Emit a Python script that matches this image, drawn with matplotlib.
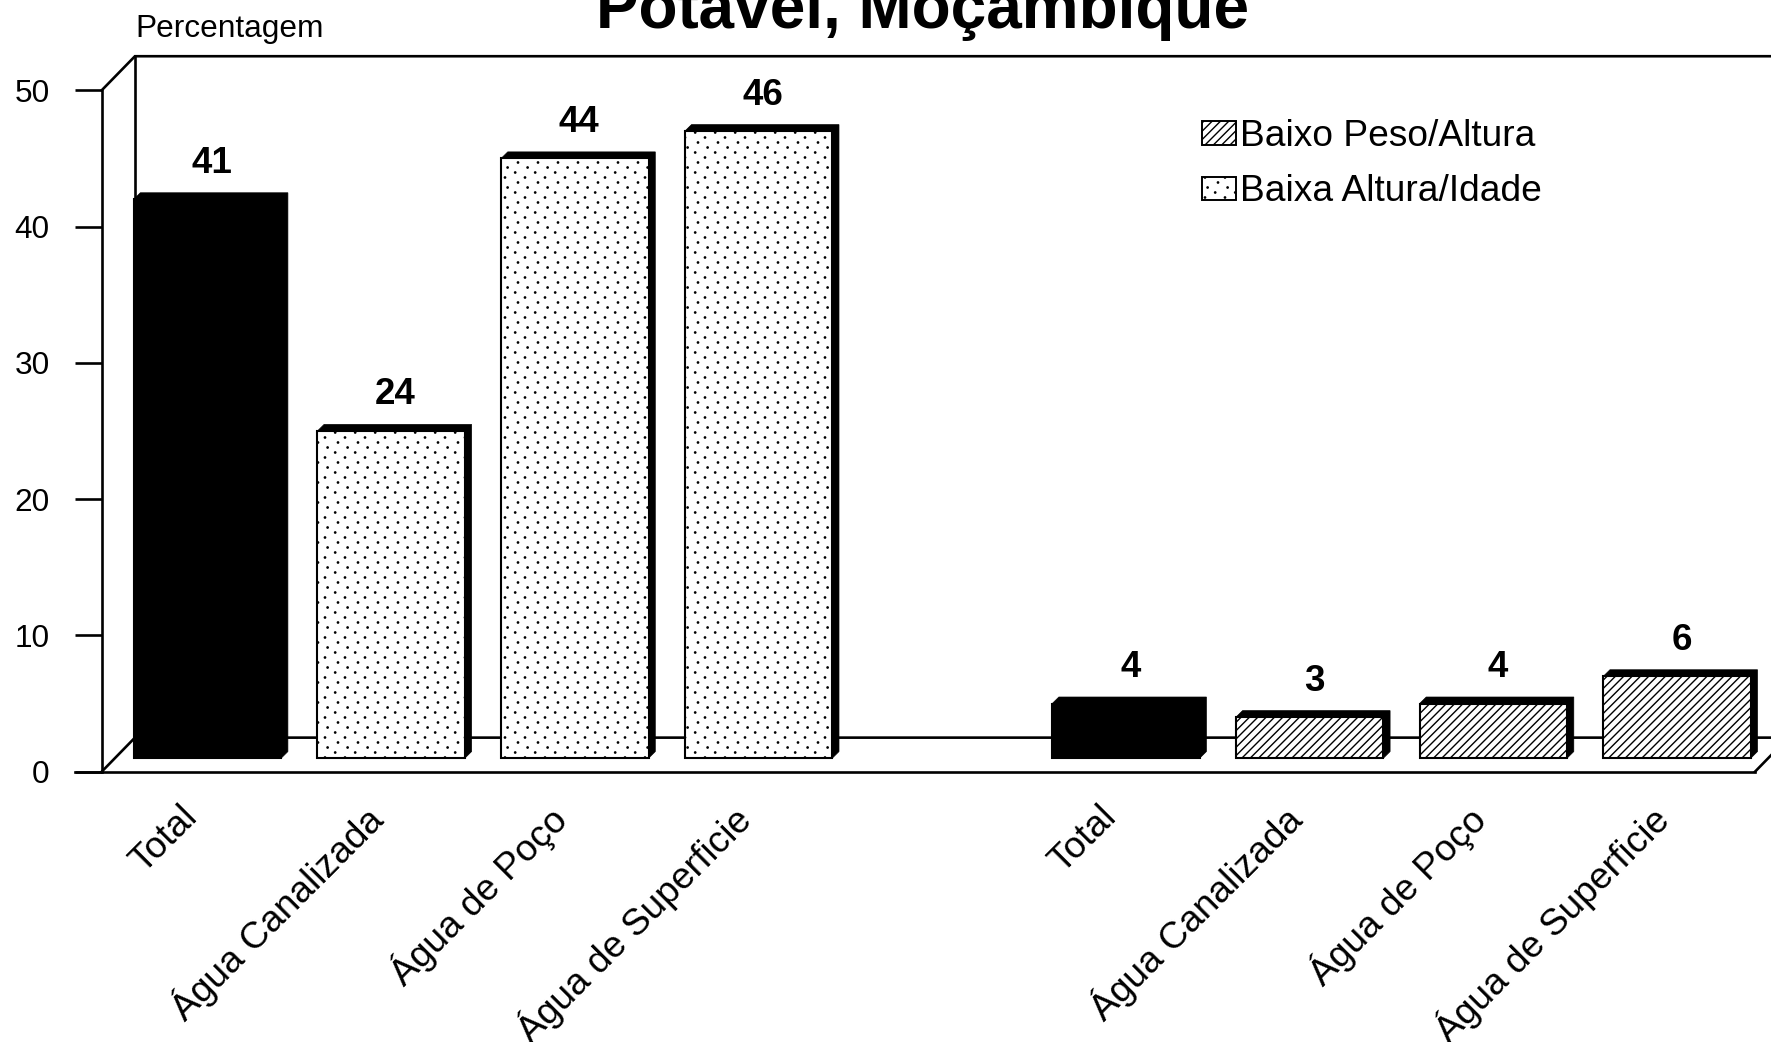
import matplotlib
matplotlib.use("Agg")
import numpy as np
import matplotlib.pyplot as plt
import matplotlib.hatch as mhatch
from matplotlib.path import Path
from matplotlib.patches import Patch, Polygon

plt.rcParams['font.family'] = ['Liberation Sans', 'DejaVu Sans']
plt.rcParams['hatch.linewidth'] = 1.0

W, H = 1771, 1042
# ---- data ----
categories = ["Total", "Água Canalizada", "Água de Poço", "Água de Superficie"]
height_for_age = [41, 24, 44, 46]     # Baixa Altura/Idade
weight_for_height = [4, 3, 4, 6]      # Baixo Peso/Altura
left_positions = [0, 1, 2, 3]
right_positions = [5, 6, 7, 8]
y_ticks = [0, 10, 20, 30, 40, 50]
legend_labels = ["Baixo Peso/Altura", "Baixa Altura/Idade"]
title_text = "Potável, Moçambique"
y_title = "Percentagem"

# ---- 3-D look (data units) ----
BASE = 1.0        # bars stand one unit above the front floor line
BAR_W = 0.803
DX, DY = 0.036, 0.48     # bar depth
WX, WY = 0.181, 2.5      # wall depth
XMIN, XMAX = -0.576, 8.424


class SparseDots(mhatch.HatchPatternBase):
    """Sparse 4-row staggered dot screen, used for the '*' hatch."""
    COLS = 5
    ROWS = 20
    PHASE = [0.90, 0.38, 0.76, 0.25]
    R = 0.0065

    def __init__(self, hatch, density):
        self.on = '*' in hatch
        self.circle = Path.unit_circle()
        self.num_vertices = (self.COLS * self.ROWS * len(self.circle.vertices)) if self.on else 0

    def set_vertices_and_codes(self, vertices, codes):
        n = len(self.circle.vertices)
        cur = 0
        for j in range(self.ROWS):
            y = 1 - (j + 0.5) / self.ROWS
            frac = self.PHASE[j % 4]
            for k in range(self.COLS):
                x = (k + frac) / self.COLS
                vertices[cur:cur + n] = self.circle.vertices * self.R + (x, y)
                codes[cur:cur + n] = self.circle.codes
                cur += n


mhatch._hatch_types[:] = [t for t in mhatch._hatch_types if t is not mhatch.Stars] + [SparseDots]

fig = plt.figure(figsize=(W / 100, H / 100), dpi=100, facecolor='white')
ax = fig.add_axes([101.7 / W, (H - 771.7) / H, (1755 - 101.7) / W, (771.7 - 90.3) / H])
ax.set_xlim(XMIN, XMAX)
ax.set_ylim(0, 50)
ax.patch.set_visible(False)
for s in ['top', 'right', 'bottom']:
    ax.spines[s].set_visible(False)
ax.spines['left'].set_linewidth(1.9)
ax.set_xticks([])
ax.set_yticks(y_ticks)
ax.tick_params(axis='y', length=19.5, width=1.9, pad=18, labelsize=22.8)

LW = 1.9
# walls and floor
ax.plot([XMIN, XMIN + WX, 9.0], [50, 50 + WY, 50 + WY], color='k', lw=LW, clip_on=False, zorder=1, solid_joinstyle='miter')
ax.plot([XMIN + WX, XMIN + WX], [WY, 50 + WY], color='k', lw=LW, clip_on=False, zorder=1)
ax.plot([XMIN, XMIN + WX, 9.0], [0, WY, WY], color='k', lw=LW, clip_on=False, zorder=1)
ax.plot([XMAX, XMAX + WX], [0, WY], color='k', lw=LW, clip_on=False, zorder=1)
ax.plot([XMIN - 0.148, XMAX], [0, 0], color='k', lw=LW, clip_on=False, zorder=1)


def draw_bars(positions, values, hatch):
    for i, (p, v) in enumerate(zip(positions, values)):
        solid = i == 0
        x0 = p - BAR_W / 2
        x1 = p + BAR_W / 2
        top = BASE + v
        ax.bar(p, v, bottom=BASE, width=BAR_W, facecolor='k' if solid else 'white',
               edgecolor='k', linewidth=1.5, hatch=None if solid else hatch, zorder=3,
               clip_on=False)
        ax.add_patch(Polygon([(x0, top), (x0 + DX, top + DY), (x1 + DX, top + DY),
                              (x1 + DX, BASE + DY), (x1, BASE), (x1, top)],
                             closed=True, facecolor='k', edgecolor='k', linewidth=0.5,
                             zorder=2, clip_on=False))
        ax.annotate(str(v), (p + DX / 2, top + DY), xytext=(0.7, 14.4),
                    textcoords='offset points', ha='center', va='baseline',
                    fontsize=26.5, fontweight='bold', color='k', zorder=5)
        ax.annotate(categories[i], (p, 0), xytext=(-20, -20), textcoords='offset points',
                    ha='right', va='top', rotation=45, rotation_mode='anchor',
                    fontsize=26.7, color='k', annotation_clip=False)


draw_bars(left_positions, height_for_age, '*')
draw_bars(right_positions, weight_for_height, '////')

handles = [Patch(facecolor='white', edgecolor='k', linewidth=1.4, hatch='////'),
           Patch(facecolor='white', edgecolor='k', linewidth=1.4, hatch='*')]
ax.legend(handles, legend_labels, loc='upper left', bbox_to_anchor=(1201.5 / W, (H - 119) / H),
          bbox_transform=fig.transFigure, frameon=False, fontsize=26.7, borderpad=0,
          borderaxespad=0, handlelength=0.93, handleheight=0.6, handletextpad=0.1,
          labelspacing=0.55)

fig.text(135 / W, (H - 36.7) / H, y_title, fontsize=22.8, ha='left', va='baseline')
fig.text(922 / W, (H - 28) / H, title_text, fontsize=46, fontweight='bold', ha='center', va='baseline')

fig.savefig('out.png', dpi=100, facecolor='white')
